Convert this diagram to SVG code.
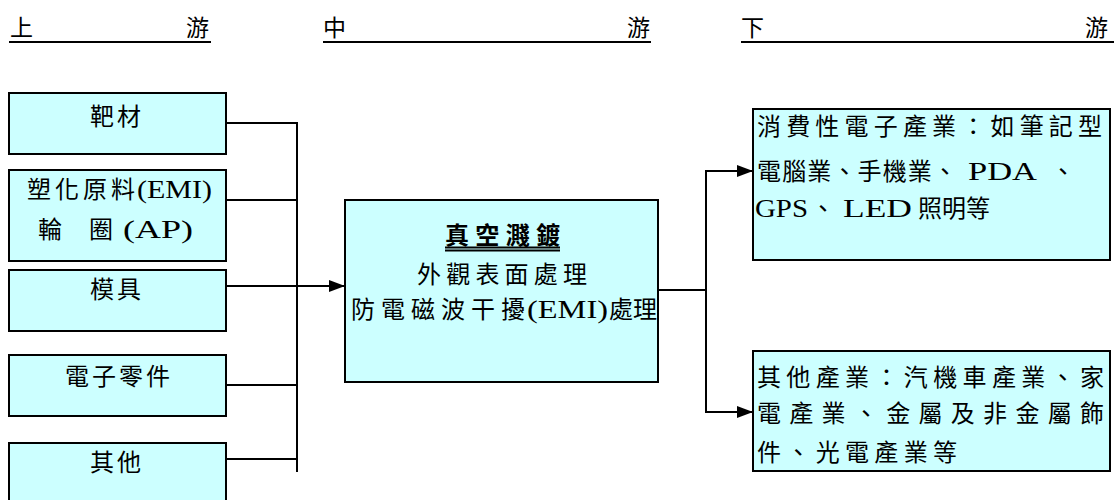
<svg xmlns="http://www.w3.org/2000/svg" width="1114" height="500" viewBox="0 0 1114 500">
<defs>
<style>
.box{fill:#CCFFFF;stroke:#000;stroke-width:2}
.t{font-family:"Liberation Serif","Noto Sans CJK TC",serif;font-size:24px;fill:#000}
.c{text-anchor:middle}
.L{font-size:26px}
.ln{stroke:#000;stroke-width:2;fill:none}
.hd{font-family:"Liberation Serif","Noto Sans CJK TC",serif;font-size:23px;fill:#000}
</style>
<marker id="ah" markerWidth="16" markerHeight="12" refX="16" refY="6" orient="auto" markerUnits="userSpaceOnUse">
<path d="M0,0 L16,6 L0,12 Z" fill="#000"/>
</marker>
</defs>
<rect width="1114" height="500" fill="#fff"/>
<g id="header">
<text class="hd" x="10" y="36">上</text>
<text class="hd" x="186" y="36">游</text>
<text class="hd" x="323" y="36">中</text>
<text class="hd" x="627" y="36">游</text>
<text class="hd" x="741" y="36">下</text>
<text class="hd" x="1085" y="36">游</text>
<line class="ln" x1="9" y1="42" x2="211" y2="42"/>
<line class="ln" x1="323" y1="42" x2="651" y2="42"/>
<line class="ln" x1="741" y1="42" x2="1114" y2="42"/>
</g>
<g id="connectors">
<line class="ln" x1="226" y1="123" x2="298" y2="123"/>
<line class="ln" x1="226" y1="200" x2="298" y2="200"/>
<line class="ln" x1="226" y1="385" x2="298" y2="385"/>
<line class="ln" x1="226" y1="459" x2="298" y2="459"/>
<line class="ln" x1="297" y1="122" x2="297" y2="472"/>
<line class="ln" x1="226" y1="286" x2="345" y2="286" marker-end="url(#ah)"/>
<line class="ln" x1="658" y1="290" x2="706" y2="290"/>
<line class="ln" x1="706" y1="171" x2="706" y2="412"/>
<line class="ln" x1="705" y1="171" x2="753" y2="171" marker-end="url(#ah)"/>
<line class="ln" x1="705" y1="412" x2="753" y2="412" marker-end="url(#ah)"/>
</g>
<g id="n1">
<rect class="box" x="9" y="93" width="217" height="61"/>
<text class="t c" x="117" y="125" letter-spacing="3">靶材</text>
</g>
<g id="n2">
<rect class="box" x="9" y="170" width="217" height="91"/>
<text class="t" x="27" y="198" textLength="108" lengthAdjust="spacing">塑化原料</text>
<text class="t L" x="137" y="198" textLength="75" lengthAdjust="spacingAndGlyphs">(EMI)</text>
<text class="t" x="38" y="238">輪</text>
<text class="t" x="89" y="238">圈</text>
<text class="t L" x="123" y="238" textLength="70" lengthAdjust="spacingAndGlyphs">(AP)</text>
</g>
<g id="n3">
<rect class="box" x="9" y="270" width="217" height="61"/>
<text class="t c" x="117" y="298" letter-spacing="3">模具</text>
</g>
<g id="n4">
<rect class="box" x="9" y="355" width="217" height="61"/>
<text class="t c" x="119" y="385" letter-spacing="3">電子零件</text>
</g>
<g id="n5">
<rect class="box" x="9" y="443" width="217" height="70"/>
<text class="t c" x="117" y="471" letter-spacing="3">其他</text>
</g>
<g id="center">
<rect class="box" x="345" y="200" width="313" height="182"/>
<text class="t" x="445" y="244" font-weight="bold" textLength="115" lengthAdjust="spacing">真空濺鍍</text>
<line class="ln" x1="445" y1="247.5" x2="560" y2="247.5" stroke-width="1.5"/>
<line class="ln" x1="445" y1="250.5" x2="560" y2="250.5" stroke-width="1.5"/>
<text class="t" x="417" y="283" textLength="170" lengthAdjust="spacing">外觀表面處理</text>
<text class="t" x="351" y="318" textLength="174" lengthAdjust="spacing">防電磁波干擾</text>
<text class="t L" x="527" y="318" textLength="81" lengthAdjust="spacingAndGlyphs">(EMI)</text>
<text class="t" x="609" y="318" font-size="23">處理</text>
</g>
<g id="r1">
<rect class="box" x="753" y="109" width="357" height="151"/>
<text class="t" x="757" y="135" textLength="345" lengthAdjust="spacing">消費性電子產業：如筆記型</text>
<text class="t" x="757" y="180" textLength="200" lengthAdjust="spacing">電腦業、手機業、</text>
<text class="t L" x="968" y="180" textLength="69" lengthAdjust="spacingAndGlyphs">PDA</text>
<text class="t" x="1051" y="180">、</text>
<text class="t L" x="755" y="217" textLength="53" lengthAdjust="spacingAndGlyphs">GPS</text>
<text class="t" x="811" y="217">、</text>
<text class="t L" x="843" y="217" textLength="69" lengthAdjust="spacingAndGlyphs">LED</text>
<text class="t" x="918" y="217" font-size="22">照明等</text>
</g>
<g id="r2">
<rect class="box" x="753" y="351" width="357" height="120"/>
<text class="t" x="757" y="386" textLength="347" lengthAdjust="spacing">其他產業：汽機車產業、家</text>
<text class="t" x="757" y="422" textLength="347" lengthAdjust="spacing">電產業、金屬及非金屬飾</text>
<text class="t" x="757" y="461" textLength="200" lengthAdjust="spacing">件、光電產業等</text>
</g>
</svg>
